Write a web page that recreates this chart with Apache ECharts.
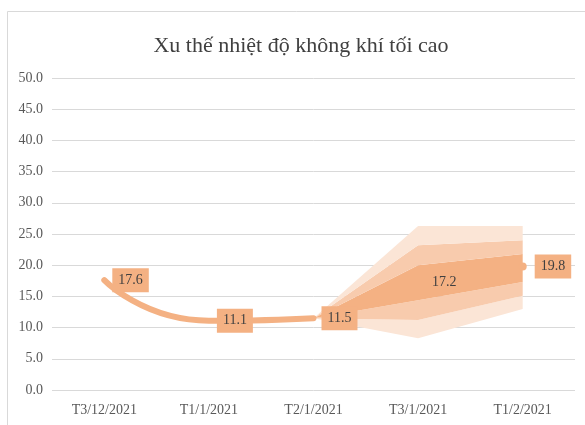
<!DOCTYPE html>
<html>
<head>
<meta charset="utf-8">
<script src="https://cdn.jsdelivr.net/npm/echarts@6/dist/echarts.min.js"></script>
<style>
html,body{margin:0;padding:0;background:#fff;}
#chart{width:585px;height:425px;}
</style>
</head>
<body>
<div id="chart"></div>
<script>
var title = 'Xu thế nhiệt độ không khí tối cao';
var categories = ['T3/12/2021', 'T1/1/2021', 'T2/1/2021', 'T3/1/2021', 'T1/2/2021'];
var observed = [17.6, 11.1, 11.5, null, null];
var forecast = [null, null, 11.5, 17.2, 19.8];
var outerLow  = [null, null, 11.5, 8.3, 13.0];
var midLow    = [null, null, 11.5, 11.2, 15.1];
var innerLow  = [null, null, 11.5, 14.4, 17.3];
var innerHigh = [null, null, 11.5, 20.0, 21.8];
var midHigh   = [null, null, 11.5, 23.2, 24.0];
var outerHigh = [null, null, 11.5, 26.3, 26.3];

var cInner = '#F4B183', cMid = '#F8CBAD', cOuter = '#FBE5D6';
var font = '"Liberation Serif", "Times New Roman", serif';

function diff(a, b) {
  return a.map(function (v, i) { return (v == null || b[i] == null) ? null : +(v - b[i]).toFixed(2); });
}
function band(name, data, color) {
  return {
    name: name, type: 'line', stack: 'band', data: data,
    symbol: 'none', lineStyle: { width: 0, opacity: 0 },
    areaStyle: color ? { color: color, opacity: 1 } : { opacity: 0 },
    silent: true, z: 1
  };
}
var labelCfg = {
  show: true, position: 'right', distance: 8,
  fontFamily: font, fontSize: 14, color: '#404040',
  backgroundColor: cInner, padding: [5, 6, 5, 6],
  formatter: function (p) { return p.value.toFixed(1); }
};

var chart = echarts.init(document.getElementById('chart'));
chart.setOption({
  animation: false,
  backgroundColor: '#fff',
  title: {
    text: title, left: 296, textAlign: 'center', top: 30,
    textStyle: { fontFamily: font, fontSize: 22, fontWeight: 'normal', color: '#404040' }
  },
  graphic: [{
    type: 'rect', shape: { x: 7.5, y: 11.5, width: 700, height: 500 },
    style: { fill: 'none', stroke: '#d9d9d9', lineWidth: 1 }, silent: true
  }],
  grid: { left: 52, right: 10, top: 78, bottom: 35 },
  xAxis: {
    type: 'category', data: categories, boundaryGap: true,
    axisLine: { show: false }, axisTick: { show: false },
    axisLabel: { fontFamily: font, fontSize: 14, color: '#595959', margin: 13 }
  },
  yAxis: {
    type: 'value', min: 0, max: 50, interval: 5,
    axisLine: { show: false }, axisTick: { show: false },
    axisLabel: { fontFamily: font, fontSize: 14, color: '#595959', margin: 9,
      formatter: function (v) { return v.toFixed(1); } },
    splitLine: { lineStyle: { color: '#d9d9d9', width: 1 } }
  },
  series: [
    band('base', outerLow, null),
    band('outerLowBand', diff(midLow, outerLow), cOuter),
    band('midLowBand', diff(innerLow, midLow), cMid),
    band('innerBand', diff(innerHigh, innerLow), cInner),
    band('midHighBand', diff(midHigh, innerHigh), cMid),
    band('outerHighBand', diff(outerHigh, midHigh), cOuter),
    {
      name: 'forecast', type: 'line', data: forecast.map(function (v, i) {
        if (v == null) return null;
        if (i === 2) return { value: v, label: { show: false }, symbolSize: 0 };
        if (i === 3) return { value: v, symbolSize: 0, label: { backgroundColor: 'transparent' } };
        return { value: v, symbolSize: 8 };
      }),
      symbol: 'circle', itemStyle: { color: cInner },
      lineStyle: { width: 0, opacity: 0 },
      label: labelCfg, z: 3
    },
    {
      name: 'observed', type: 'line', data: observed, smooth: 0.6,
      symbol: 'circle', symbolSize: 0, showSymbol: true,
      lineStyle: { color: cInner, width: 6, cap: 'round' },
      itemStyle: { color: cInner },
      label: labelCfg, z: 4
    }
  ]
});
</script>
</body>
</html>
